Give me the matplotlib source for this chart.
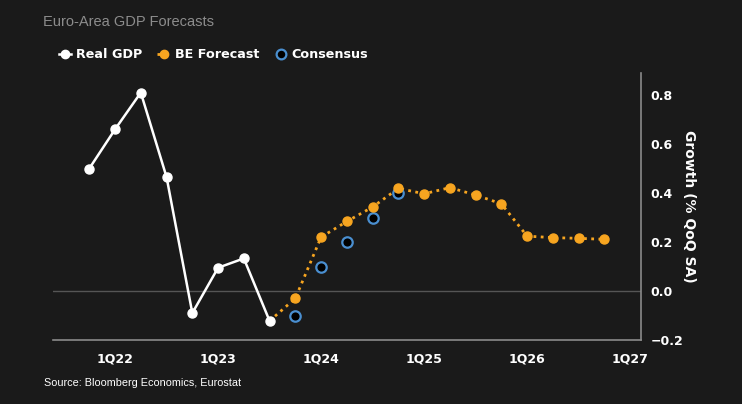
import matplotlib as mpl
import matplotlib.pyplot as plt
from matplotlib.lines import Line2D

quarters = ["4Q21", "1Q22", "2Q22", "3Q22", "4Q22", "1Q23", "2Q23", "3Q23",
            "4Q23", "1Q24", "2Q24", "3Q24", "4Q24", "1Q25", "2Q25", "3Q25",
            "4Q25", "1Q26", "2Q26", "3Q26", "4Q26", "1Q27"]

real_q = quarters[0:8]
real_gdp = [0.50, 0.66, 0.81, 0.465, -0.09, 0.095, 0.133, -0.122]

be_q = quarters[7:21]
be_forecast = [-0.122, -0.03, 0.22, 0.284, 0.343, 0.419, 0.397, 0.422, 0.392,
               0.356, 0.224, 0.218, 0.215, 0.211]

cons_q = quarters[8:13]
consensus = [-0.10, 0.10, 0.20, 0.30, 0.40]

tick_q = ["1Q22", "1Q23", "1Q24", "1Q25", "1Q26", "1Q27"]
y_ticks = [-0.2, 0.0, 0.2, 0.4, 0.6, 0.8]

bg = "#1a1a1a"
orange = "#f7a520"
blue = "#4a8fd0"
grey = "#8a8a8a"

mpl.rc("font", family=["DejaVu Sans"])


def qx(labels):
    return [quarters.index(q) for q in labels]


fig = plt.figure(figsize=(7.42, 4.04), dpi=100, facecolor=bg)
ax = fig.add_axes([0.0714, 0.1584, 0.7921, 0.6609], facecolor=bg)

ax.axhline(0, color="#555555", linewidth=1.0, zorder=1)

ax.plot(qx(real_q), real_gdp, color="white", linewidth=1.8, marker="o",
        markersize=6.5, zorder=3)
ax.plot(qx(cons_q), consensus, linestyle="none", marker="o", markersize=7.5,
        markerfacecolor="black", markeredgecolor=blue, markeredgewidth=1.6, zorder=4)
ax.plot(qx(be_q), be_forecast, color=orange, linewidth=2, linestyle=(0, (1, 1.6)),
        zorder=2)
ax.plot(qx(be_q[1:]), be_forecast[1:], color=orange, linestyle="none", marker="o",
        markersize=6.5, zorder=5)

ax.set_xlim(-1.41, 21.41)
ax.set_ylim(-0.2, 0.89)
ax.set_xticks(qx(tick_q))
ax.set_xticklabels(tick_q)
ax.set_yticks(y_ticks)
ax.set_yticklabels(["\u22120.2", "0.0", "0.2", "0.4", "0.6", "0.8"])
ax.yaxis.tick_right()
ax.tick_params(length=0, colors="white", labelsize=9)
ax.tick_params(axis="y", pad=7)
ax.tick_params(axis="x", pad=9)
for lab in ax.get_xticklabels() + ax.get_yticklabels():
    lab.set_fontweight("bold")

for side in ["top", "left"]:
    ax.spines[side].set_visible(False)
ax.spines["right"].set_color(grey)
ax.spines["bottom"].set_color(grey)
ax.spines["right"].set_linewidth(1.2)
ax.spines["bottom"].set_linewidth(1.2)

ax.yaxis.set_label_position("right")
ax.set_ylabel("Growth (% QoQ SA)", rotation=270, color="white", fontsize=10,
              fontweight="bold", labelpad=9)

fig.text(0.058, 0.945, "Euro-Area GDP Forecasts", color="#8c8c8c", fontsize=10.5,
         family=["Liberation Sans", "DejaVu Sans"], va="center")
fig.text(0.059, 0.052, "Source: Bloomberg Economics, Eurostat", color="white",
         fontsize=7.8, family=["Liberation Sans Narrow", "Liberation Sans"], va="center")

handles = [Line2D([0], [0], color="white", linewidth=1.8, marker="o", markersize=6,
                  label="Real GDP"),
           Line2D([0], [0], color=orange, linewidth=2, linestyle=(0, (1, 1.6)),
                  marker="o", markersize=6, label="BE Forecast"),
           Line2D([0], [0], linestyle="none", marker="o", markersize=7,
                  markerfacecolor="black", markeredgecolor=blue, markeredgewidth=1.6,
                  label="Consensus")]
leg = fig.legend(handles=handles, loc="center left", bbox_to_anchor=(0.079, 0.864),
                 ncol=3, frameon=False, handlelength=1.0, handletextpad=0.35,
                 columnspacing=1.2, borderaxespad=0, borderpad=0,
                 prop={"weight": "bold", "size": 9.2})
for t in leg.get_texts():
    t.set_color("white")

fig.savefig("out.png", dpi=100, facecolor=bg)
